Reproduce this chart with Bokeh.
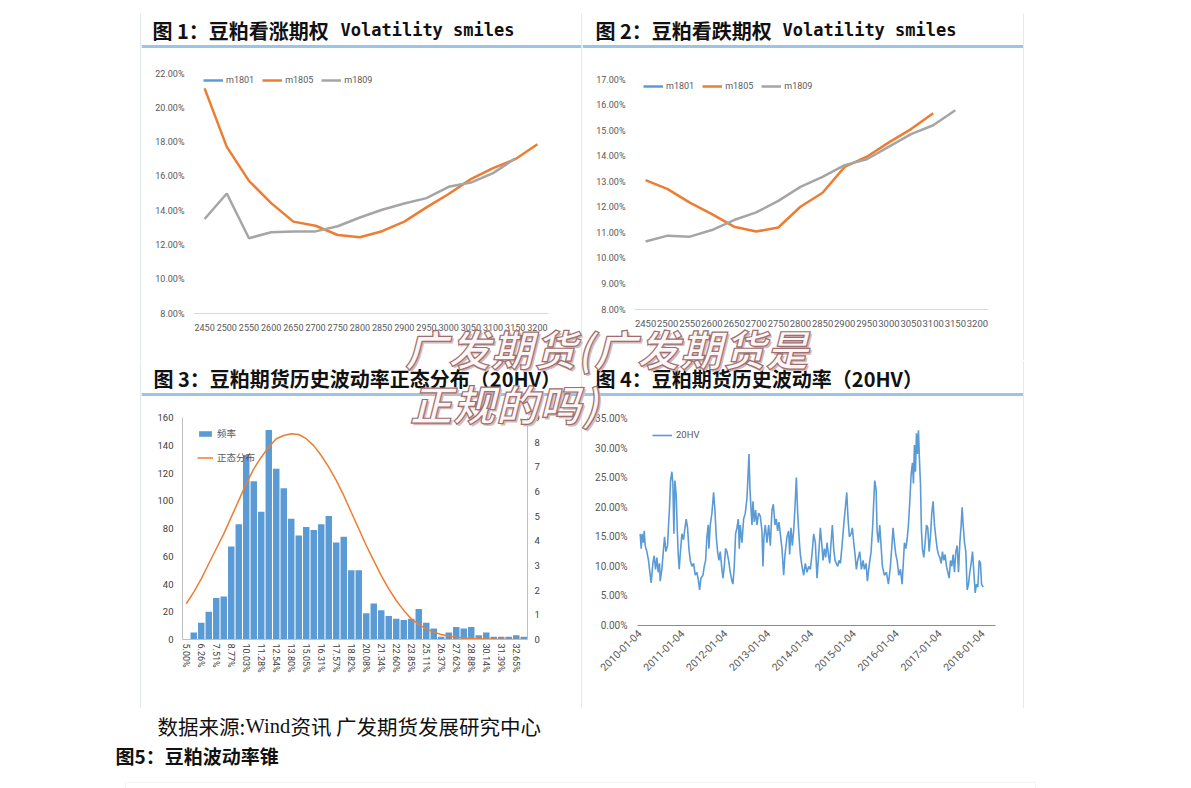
import math
from bokeh.plotting import figure
from bokeh.models import (ColumnDataSource, Range1d, FactorRange, LinearAxis, Legend, LegendItem,
                          Label, Span, Spacer, FixedTicker, SingleIntervalTicker,
                          PrintfTickFormatter, BoxAnnotation, Div)
from bokeh.layouts import column, row
from bokeh.embed import file_html
from bokeh.resources import INLINE

NaN = float("nan")

# ---------------- data ----------------
strikes = ["2450", "2500", "2550", "2600", "2650", "2700", "2750", "2800",
           "2850", "2900", "2950", "3000", "3050", "3100", "3150", "3200"]

# Fig 1: call options implied vol (%)
call_m1801 = [NaN] * 16
call_m1805 = [21.13, 17.72, 15.74, 14.44, 13.36, 13.12, 12.58, 12.45,
              12.80, 13.36, 14.19, 14.97, 15.84, 16.48, 17.00, 17.87]
call_m1809 = [13.51, 15.00, 12.39, 12.74, 12.79, 12.79, 13.09, 13.60,
              14.05, 14.42, 14.73, 15.39, 15.64, 16.19, 17.04, NaN]

# Fig 2: put options implied vol (%)
put_m1801 = [NaN] * 16
put_m1805 = [13.06, 12.71, 12.18, 11.73, 11.24, 11.05, 11.21, 12.02,
             12.57, 13.58, 13.98, 14.54, 15.06, 15.68, NaN, NaN]
put_m1809 = [10.66, 10.89, 10.85, 11.11, 11.50, 11.80, 12.25, 12.80,
             13.19, 13.65, 13.88, 14.37, 14.86, 15.21, 15.80, NaN]

# Fig 3: histogram of 20HV
hist_counts = [0, 5, 12, 20, 30, 31, 67, 83, 133, 114, 92, 151, 123, 109, 87, 75,
               81, 79, 83, 89, 70, 74, 50, 50, 19, 26, 21, 17, 15, 14, 15, 22,
               12, 8, 2, 5, 9, 8, 9, 3, 5, 2, 2, 2, 3, 2]
normal_pdf = [1.45, 1.92, 2.46, 3.07, 3.68, 4.28, 4.96, 5.64, 6.31, 6.92, 7.39, 7.80,
              8.14, 8.27, 8.34, 8.31, 8.14, 7.86, 7.46, 6.99, 6.45, 5.84, 5.16, 4.49,
              3.81, 3.20, 2.59, 2.05, 1.58, 1.18, 0.84, 0.61, 0.43, 0.30, 0.20, 0.14,
              0.09, 0.06, 0.04, 0.03, 0.02, 0.01, 0.01, 0.0, 0.0, 0.0]
hist_ticklabels = ["5.00%", "6.26%", "7.51%", "8.77%", "10.03%", "11.28%", "12.54%",
                   "13.80%", "15.05%", "16.31%", "17.57%", "18.82%", "20.08%", "21.34%",
                   "22.60%", "23.85%", "25.11%", "26.37%", "27.62%", "28.88%", "30.14%",
                   "31.39%", "32.65%"]

# Fig 4: 20-day historical volatility (%), time in decimal years
hv_t = [
    2010.016, 2010.039, 2010.062, 2010.093, 2010.109, 2010.132, 2010.171, 2010.210, 2010.249, 2010.272,
    2010.311, 2010.342, 2010.374, 2010.405, 2010.436, 2010.467, 2010.482, 2010.521, 2010.560, 2010.584,
    2010.615, 2010.654, 2010.677, 2010.700, 2010.724, 2010.755, 2010.778, 2010.802, 2010.825, 2010.856,
    2010.879, 2010.903, 2010.926, 2010.949, 2010.988,
    2011.027, 2011.051, 2011.089, 2011.121, 2011.152, 2011.183, 2011.222, 2011.261, 2011.300, 2011.339,
    2011.377, 2011.401, 2011.432, 2011.479, 2011.510, 2011.541, 2011.572, 2011.603, 2011.619, 2011.650,
    2011.689, 2011.728, 2011.759, 2011.790, 2011.821, 2011.852, 2011.883, 2011.922, 2011.946, 2011.977,
    2012.008, 2012.039, 2012.078, 2012.117, 2012.156, 2012.179, 2012.210, 2012.241, 2012.272, 2012.304,
    2012.327, 2012.350, 2012.389, 2012.428, 2012.467, 2012.506, 2012.529, 2012.553, 2012.576, 2012.599,
    2012.623, 2012.646, 2012.677, 2012.708, 2012.739, 2012.778, 2012.817, 2012.856, 2012.879, 2012.903,
    2012.934, 2012.973,
    2013.012, 2013.051, 2013.089, 2013.121, 2013.160, 2013.191, 2013.222, 2013.253, 2013.284, 2013.323,
    2013.362, 2013.393, 2013.440, 2013.479, 2013.502, 2013.533, 2013.564, 2013.595, 2013.626, 2013.658,
    2013.689, 2013.720, 2013.751, 2013.790, 2013.829, 2013.868, 2013.907, 2013.946, 2013.984,
    2014.023, 2014.062, 2014.101, 2014.140, 2014.179, 2014.218, 2014.249, 2014.280, 2014.311, 2014.342,
    2014.374, 2014.405, 2014.436, 2014.467, 2014.498, 2014.529, 2014.560, 2014.591, 2014.623, 2014.654,
    2014.685, 2014.724, 2014.763, 2014.802, 2014.833, 2014.864, 2014.895, 2014.934, 2014.965, 2014.996,
    2015.027, 2015.058, 2015.089, 2015.136, 2015.175, 2015.214, 2015.245, 2015.284, 2015.315, 2015.354,
    2015.401, 2015.440, 2015.463, 2015.486, 2015.518, 2015.541, 2015.572, 2015.603, 2015.634, 2015.665,
    2015.712, 2015.759, 2015.805, 2015.852, 2015.891, 2015.914, 2015.946, 2015.977,
    2016.008, 2016.047, 2016.086, 2016.125, 2016.148, 2016.179, 2016.210, 2016.241, 2016.272, 2016.304,
    2016.335, 2016.366, 2016.389, 2016.412, 2016.436, 2016.459, 2016.482, 2016.506, 2016.529, 2016.553,
    2016.576, 2016.599, 2016.630, 2016.661, 2016.693, 2016.724, 2016.755, 2016.786, 2016.817, 2016.848,
    2016.879, 2016.910, 2016.942, 2016.973,
    2017.004, 2017.035, 2017.066, 2017.097, 2017.128, 2017.160, 2017.191, 2017.222, 2017.253, 2017.284,
    2017.315, 2017.346, 2017.377, 2017.409, 2017.440, 2017.471, 2017.502, 2017.525, 2017.549, 2017.580,
    2017.611, 2017.642, 2017.673, 2017.704, 2017.735, 2017.767, 2017.798, 2017.829, 2017.860, 2017.891,
    2017.922, 2017.953, 2017.977,
    2018.016,
]
hv_v = [
    15.5, 13, 15.5, 14, 16, 13.5, 12.5, 11, 8.5, 7.2,
    10.5, 11.8, 9.5, 11.5, 9, 10.5, 7.5, 9.5, 13, 15,
    12.5, 13.5, 17, 20, 24.5, 26, 24, 15.5, 24.5, 22,
    16.5, 12, 9.5, 12, 15.5,
    14.5, 16, 18, 16.5, 13, 11, 10, 10.5, 8.5, 9,
    7.5, 6, 8, 8.5, 10, 11, 15, 17, 13, 17,
    19, 22.5, 19.5, 15, 12.5, 11, 12.5, 9.5, 8, 10,
    13, 12.5, 11, 9, 7.5, 7, 10, 15.5, 16.5, 18,
    13, 17, 14, 18, 19, 21.5, 25, 29, 23, 20,
    17, 21, 17.5, 19.5, 17, 19, 18.5, 16, 10, 15,
    17, 14,
    17, 13.5, 19.5, 20.5, 17, 18, 16, 17.5, 15.5, 13,
    8.5, 12, 15, 16, 12, 16.5, 13.5, 16, 20, 25,
    19, 15, 12, 10, 8.5, 10.5, 9, 10, 9.5,
    12, 15.5, 14, 8, 12, 16.5, 14, 11, 13, 11.5,
    14, 12, 10.5, 14, 17, 13, 11, 10.5, 10, 11,
    10.5, 13.5, 17, 20, 22.5, 18, 15, 15.5, 16.5, 14,
    12, 9.5, 11, 12.5, 9.5, 11, 9.5, 10.5, 7.5, 10,
    12.5, 17, 21, 24.5, 23, 16, 14, 17, 13.5, 10,
    8.5, 9, 7, 10, 14, 16.5, 14, 12,
    11, 8.5, 9.5, 7, 10, 14, 13, 14.5, 17, 21,
    25.5, 27.5, 24, 30.5, 26, 32.5, 29, 33, 28, 24,
    16, 13, 11.5, 14, 17, 16.5, 12.5, 15, 19, 21,
    17, 15, 13, 12,
    11.5, 10.5, 12.5, 11, 12, 10, 9, 8, 11, 10,
    12, 9, 12.5, 13.5, 9, 14, 17, 20, 17, 14,
    12.5, 6, 7, 9, 10.5, 12.5, 9, 5.5, 7, 6.5,
    11, 10.5, 7,
    6.5,
]
hv_tick_years = [2010, 2011, 2012, 2013, 2014, 2015, 2016, 2017, 2018]
hv_ticklabels = ["2010-01-04", "2011-01-04", "2012-01-04", "2013-01-04", "2014-01-04",
                 "2015-01-04", "2016-01-04", "2017-01-04", "2018-01-04"]

watermark_lines = ["广发期货(广发期货是", "正规的吗)"]

# ---------------- style ----------------
BLUE = "#5b9bd5"
ORANGE = "#ed7d31"
GRAY = "#a5a5a5"
BORDER = "#c9d4e1"
HEADLINE = "#9dc3e6"
TICK = "#595959"
AXF = "Roboto"
CJK = "Noto Sans CJK SC"
MONO = "DejaVu Sans Mono"
SERIF = "Liberation Serif"


def no_align(p):
    if "frame_align" in p.properties():
        p.frame_align = False
    return p


def rule(w, h):
    p = figure(width=w, height=h, min_border=0, toolbar_location=None,
               x_axis_location=None, y_axis_location=None, output_backend="svg",
               background_fill_color=BORDER, border_fill_color=BORDER, outline_line_color=None)
    p.grid.visible = False
    return no_align(p)


def header(w, parts):
    p = figure(width=w, height=36, x_range=Range1d(0, w), y_range=Range1d(0, 36), min_border=0,
               toolbar_location=None, x_axis_location=None, y_axis_location=None,
               output_backend="svg", outline_line_color=None)
    p.grid.visible = False
    no_align(p)
    p.add_layout(Span(location=3, dimension="width", line_color=HEADLINE, line_width=3))
    for text, x, font, size in parts:
        p.add_layout(Label(x=x, y=19.5, text=text, text_font=font, text_font_size=size,
                           text_font_style="bold", text_color="#111111",
                           text_baseline="middle", text_align="left"))
    return p


def chart(w, l, r, t, b, x_range, y_range):
    p = figure(width=w, height=311, x_range=x_range, y_range=y_range,
               min_border_left=l, min_border_right=r, min_border_top=t, min_border_bottom=b,
               toolbar_location=None, output_backend="svg", outline_line_color=None)
    p.grid.visible = False
    return no_align(p)


def style_axis(ax, size, color=TICK, line=None, standoff=8):
    ax.major_tick_line_color = None
    ax.minor_tick_line_color = None
    ax.major_tick_out = 0
    ax.major_tick_in = 0
    ax.minor_tick_out = 0
    ax.minor_tick_in = 0
    ax.major_label_text_font = AXF
    ax.major_label_text_font_size = size
    ax.major_label_text_color = color
    ax.axis_line_color = line
    ax.major_label_standoff = standoff


def smile_legend(p, renderers, loc):
    leg = Legend(items=[LegendItem(label=n, renderers=[r]) for n, r in renderers],
                 orientation="horizontal", location=loc, padding=0, margin=0, spacing=8,
                 glyph_width=20, glyph_height=10, label_height=10, label_standoff=3,
                 label_text_font=AXF, label_text_font_size="9px", label_text_color=TICK,
                 border_line_color=None, background_fill_alpha=0)
    p.add_layout(leg)


# ---------------- Fig 1 ----------------
h1 = header(440, [("图 1：豆粕看涨期权", 11, CJK, "20px"), ("Volatility smiles", 199, MONO, "17px")])
src1 = ColumnDataSource(dict(x=strikes, m1801=call_m1801, m1805=call_m1805, m1809=call_m1809))
p1 = chart(440, 52, 33, 24, 47, FactorRange(*strikes), Range1d(8, 22))
r11 = p1.line("x", "m1801", source=src1, color=BLUE, line_width=2.5)
r12 = p1.line("x", "m1805", source=src1, color=ORANGE, line_width=2.5)
r13 = p1.line("x", "m1809", source=src1, color=GRAY, line_width=2.5)
p1.yaxis.ticker = SingleIntervalTicker(interval=2)
p1.yaxis.formatter = PrintfTickFormatter(format="%.2f%%")
style_axis(p1.yaxis[0], "9px", standoff=9)
style_axis(p1.xaxis[0], "9px", line="#d9d9d9", standoff=10)
smile_legend(p1, [("m1801", r11), ("m1805", r12), ("m1809", r13)], (10, 228))

# ---------------- Fig 2 ----------------
h2 = header(441, [("图 2：豆粕看跌期权", 13, CJK, "20px"), ("Volatility smiles", 200, MONO, "17px")])
src2 = ColumnDataSource(dict(x=strikes, m1801=put_m1801, m1805=put_m1805, m1809=put_m1809))
p2 = chart(441, 52, 35, 30, 51, FactorRange(*strikes), Range1d(8, 17))
r21 = p2.line("x", "m1801", source=src2, color=BLUE, line_width=2.5)
r22 = p2.line("x", "m1805", source=src2, color=ORANGE, line_width=2.5)
r23 = p2.line("x", "m1809", source=src2, color=GRAY, line_width=2.5)
p2.yaxis.ticker = SingleIntervalTicker(interval=1)
p2.yaxis.formatter = PrintfTickFormatter(format="%.2f%%")
style_axis(p2.yaxis[0], "9px", standoff=9)
style_axis(p2.xaxis[0], "9.5px", line="#d9d9d9", standoff=10)
smile_legend(p2, [("m1801", r21), ("m1805", r22), ("m1809", r23)], (9, 218))

# ---------------- Fig 3 ----------------
h3 = header(440, [("图 3：豆粕期货历史波动率正态分布（20HV）", 12, CJK, "20px")])
bins = list(range(len(hist_counts)))
src3 = ColumnDataSource(dict(x=bins, count=hist_counts, pdf=normal_pdf))
p3 = chart(440, 41, 54, 20, 69, Range1d(-0.5, len(hist_counts) - 0.5), Range1d(0, 160))
p3.extra_y_ranges = {"pdf": Range1d(0, 9)}
rb = p3.vbar(x="x", top="count", width=0.86, source=src3, fill_color=BLUE, line_color=None)
rl = p3.line(x="x", y="pdf", source=src3, color=ORANGE, line_width=1.5, y_range_name="pdf")
ax_r = LinearAxis(y_range_name="pdf", ticker=SingleIntervalTicker(interval=1))
p3.add_layout(ax_r, "right")
p3.yaxis[0].ticker = SingleIntervalTicker(interval=20)
p3.xaxis.ticker = FixedTicker(ticks=bins[::2])
p3.xaxis.major_label_overrides = {b: s for b, s in zip(bins[::2], hist_ticklabels)}
p3.xaxis.major_label_orientation = "vertical"
style_axis(p3.yaxis[0], "9.5px", color="#404040", line="#bfbfbf", standoff=9)
style_axis(ax_r, "9.5px", color="#404040", line="#bfbfbf", standoff=7)
style_axis(p3.xaxis[0], "9px", color="#404040", line="#bfbfbf", standoff=4)
leg3 = Legend(items=[LegendItem(label="频率", renderers=[rb]), LegendItem(label="正态分布", renderers=[rl])],
              orientation="vertical", location=(15, 175), padding=0, margin=0, spacing=10,
              glyph_width=16, glyph_height=7, label_height=12, label_standoff=4,
              label_text_font=CJK, label_text_font_size="9.5px", label_text_color=TICK,
              border_line_color=None, background_fill_alpha=0)
p3.add_layout(leg3)

# ---------------- Fig 4 ----------------
h4 = header(441, [("图 4：豆粕期货历史波动率（20HV）", 13, CJK, "20px")])
src4 = ColumnDataSource(dict(t=hv_t, v=hv_v))
p4 = chart(441, 55, 28, 21, 83, Range1d(2009.953, 2018.303), Range1d(0, 35))
r4 = p4.line("t", "v", source=src4, color=BLUE, line_width=1.6)
p4.yaxis.ticker = SingleIntervalTicker(interval=5)
p4.yaxis.formatter = PrintfTickFormatter(format="%.2f%%")
p4.xaxis.ticker = FixedTicker(ticks=hv_tick_years)
p4.xaxis.major_label_overrides = dict(zip(hv_tick_years, hv_ticklabels))
p4.xaxis.major_label_orientation = math.pi / 4
style_axis(p4.yaxis[0], "10px", standoff=10)
style_axis(p4.xaxis[0], "10.5px", line="#8c8c8c", standoff=6)
leg4 = Legend(items=[LegendItem(label="20HV", renderers=[r4])], location=(15, 185),
              padding=0, margin=0, glyph_width=20, glyph_height=10, label_height=10,
              label_standoff=4, label_text_font=AXF, label_text_font_size="9.5px",
              label_text_color=TICK, border_line_color=None, background_fill_alpha=0)
p4.add_layout(leg4)

# ---------------- footer ----------------
foot = figure(width=1191, height=79, x_range=Range1d(0, 1191), y_range=Range1d(788, 709),
              min_border=0, toolbar_location=None, x_axis_location=None, y_axis_location=None,
              output_backend="svg", outline_line_color=None)
foot.grid.visible = False
no_align(foot)
for txt, x, font in [("数据来源:", 157, CJK), ("Wind", 245, SERIF),
                     ("资讯  广发期货发展研究中心", 290, CJK)]:
    foot.add_layout(Label(x=x, y=725, text=txt, text_font=font, text_font_size="20.5px",
                          text_color="#111111", text_baseline="middle", text_align="left"))
foot.add_layout(Label(x=115, y=755, text="图5：豆粕波动率锥", text_font=CJK, text_font_size="19px",
                      text_font_style="bold", text_color="#111111",
                      text_baseline="middle", text_align="left"))
foot.add_layout(BoxAnnotation(left=125, right=1035, top=782, bottom=800, fill_alpha=0,
                              line_color="#d9d9d9", line_width=1))

# ---------------- watermark overlay ----------------
wm_style = ("position:absolute;white-space:nowrap;font-family:'Noto Sans CJK SC';font-weight:bold;"
            "font-style:italic;font-size:42px;line-height:42px;letter-spacing:1px;color:#fdf6f6;"
            "-webkit-text-stroke:1.2px #9c7070;text-shadow:2px 2px 0 #d8b9b9;")
wm_html = (f'<div style="{wm_style}left:400px;top:322px;">{watermark_lines[0]}</div>'
           f'<div style="{wm_style}left:405px;top:377px;">{watermark_lines[1]}</div>')
wm = Div(text=wm_html, width=1191, height=788,
         styles={"position": "absolute", "left": "0px", "top": "0px", "z-index": "50",
                 "pointer-events": "none"})

# ---------------- layout ----------------
layout = column(
    Spacer(width=1191, height=12),
    row(Spacer(width=140, height=1), rule(884, 1)),
    row(Spacer(width=140, height=347), rule(1, 347), column(h1, p1), rule(1, 347),
        column(h2, p2), rule(1, 347)),
    row(Spacer(width=140, height=1), rule(884, 1)),
    row(Spacer(width=140, height=347), rule(1, 347), column(h3, p3), rule(1, 347),
        column(h4, p4), rule(1, 347)),
    row(Spacer(width=140, height=1), rule(884, 1)),
    foot,
    wm,
)

open("out.html", "w").write(file_html(layout, INLINE))
